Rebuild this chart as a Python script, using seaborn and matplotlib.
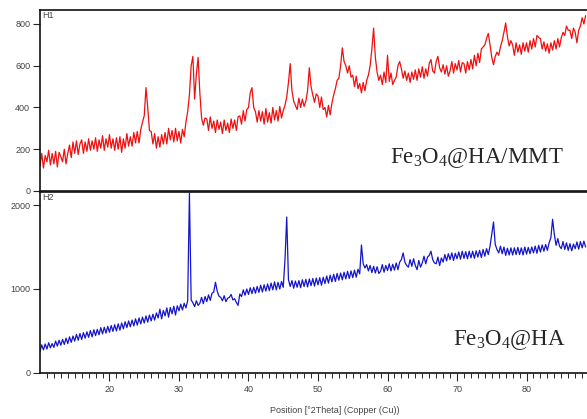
import numpy as np
import pandas as pd
import matplotlib
matplotlib.use("Agg")
import matplotlib.pyplot as plt
import seaborn as sns

# 2theta grid, 0.25 deg steps from 10 to 88.5
two_theta = np.arange(10, 88.51, 0.25)

# H1 : Fe3O4@HA/MMT (one row per degree)
h1_rows = [
    [120, 180, 110, 170], [140, 195, 125, 180], [130, 190, 115, 185], [165, 140, 200, 130],
    [180, 220, 160, 235], [180, 240, 175, 225], [245, 180, 235, 190], [250, 195, 240, 200],
    [255, 190, 245, 205], [265, 195, 250, 210], [270, 205, 250, 195], [255, 200, 260, 185],
    [250, 205, 275, 215], [260, 215, 280, 230], [285, 230, 295, 330], [360, 495, 400, 290],
    [285, 225, 275, 205], [260, 210, 270, 225], [280, 225, 300, 245], [290, 235, 300, 240],
    [285, 230, 295, 260], [330, 380, 460, 600], [645, 440, 560, 640], [470, 350, 315, 350],
    [345, 290, 355, 300], [335, 280, 340, 295], [330, 275, 340, 290], [325, 280, 345, 300],
    [340, 290, 355, 360], [320, 385, 335, 390], [400, 470, 495, 400], [380, 330, 385, 335],
    [380, 320, 395, 330], [375, 325, 400, 340], [385, 335, 405, 350], [385, 410, 450, 520],
    [610, 480, 430, 410], [390, 445, 400, 440], [405, 430, 480, 590], [500, 460, 425, 465],
    [455, 400, 450, 390], [400, 355, 410, 365], [420, 460, 490, 530], [540, 600, 686, 620],
    [600, 565, 600, 545], [555, 500, 550, 490], [515, 470, 520, 480], [530, 555, 600, 680],
    [780, 640, 570, 530], [555, 510, 570, 520], [650, 525, 565, 510], [530, 545, 600, 620],
    [585, 540, 575, 530], [565, 520, 570, 535], [580, 530, 585, 545], [595, 540, 585, 550],
    [610, 630, 575, 565], [620, 645, 590, 570], [605, 560, 600, 550], [575, 620, 565, 610],
    [580, 625, 570, 615], [610, 565, 620, 580], [630, 585, 650, 600], [660, 615, 680, 690],
    [700, 730, 755, 700], [640, 605, 645, 665], [650, 690, 720, 760], [805, 740, 695, 720],
    [700, 650, 710, 665], [700, 655, 710, 670], [710, 665, 720, 680], [730, 690, 745, 735],
    [730, 680, 715, 670], [705, 660, 710, 675], [720, 680, 730, 690], [735, 760, 745, 790],
    [770, 770, 730, 780], [760, 710, 770, 790], [830, 800, 840],
]

# H2 : Fe3O4@HA
h2_rows = [
    [255, 335, 275, 345], [285, 360, 300, 350], [305, 380, 320, 390], [330, 400, 340, 415],
    [350, 430, 365, 440], [380, 460, 390, 470], [400, 480, 415, 490], [425, 505, 430, 515],
    [445, 520, 455, 540], [465, 545, 475, 555], [485, 565, 495, 575], [500, 585, 510, 595],
    [525, 610, 540, 620], [550, 630, 560, 645], [570, 655, 585, 665], [595, 680, 605, 690],
    [620, 700, 630, 715], [655, 760, 645, 745], [680, 775, 665, 780], [705, 795, 690, 800],
    [740, 820, 750, 830], [775, 860, 2140, 870], [835, 790, 860, 805], [830, 900, 825, 910],
    [850, 930, 865, 950], [965, 1080, 975, 915], [900, 860, 920, 850], [890, 900, 935, 870],
    [885, 840, 805, 940], [910, 990, 925, 1000], [935, 1015, 945, 1020], [950, 1030, 960, 1045],
    [965, 1050, 975, 1060], [980, 1070, 990, 1085], [990, 1080, 1000, 1090], [1020, 1350, 1857, 1110],
    [1030, 1100, 1010, 1095], [1020, 1100, 1015, 1110], [1030, 1115, 1025, 1120], [1040, 1125, 1035, 1130],
    [1050, 1135, 1045, 1140], [1065, 1155, 1070, 1165], [1085, 1175, 1090, 1185], [1105, 1190, 1110, 1200],
    [1120, 1210, 1125, 1215], [1135, 1225, 1140, 1235], [1180, 1524, 1300, 1250], [1290, 1215, 1280, 1195],
    [1270, 1190, 1265, 1185], [1210, 1290, 1200, 1280], [1220, 1300, 1215, 1295], [1225, 1310, 1230, 1320],
    [1350, 1430, 1320, 1280], [1260, 1350, 1270, 1360], [1280, 1230, 1340, 1260], [1310, 1390, 1300, 1380],
    [1400, 1450, 1350, 1310], [1300, 1380, 1280, 1370], [1320, 1410, 1335, 1420], [1350, 1430, 1340, 1425],
    [1360, 1440, 1355, 1450], [1365, 1445, 1360, 1450], [1370, 1450, 1365, 1455], [1380, 1460, 1375, 1470],
    [1390, 1480, 1410, 1510], [1650, 1798, 1530, 1470], [1430, 1510, 1420, 1500], [1400, 1485, 1405, 1490],
    [1405, 1490, 1410, 1495], [1410, 1490, 1405, 1500], [1415, 1495, 1420, 1500], [1430, 1510, 1425, 1520],
    [1440, 1525, 1450, 1530], [1460, 1550, 1610, 1830], [1650, 1520, 1600, 1510], [1480, 1565, 1470, 1550],
    [1460, 1540, 1455, 1535], [1480, 1560, 1475, 1565], [1490, 1570, 1500],
]

h1 = [v for r in h1_rows for v in r]
h2 = [v for r in h2_rows for v in r]

df1 = pd.DataFrame({"pos": two_theta, "counts": h1})
df2 = pd.DataFrame({"pos": two_theta, "counts": h2})

sns.set_theme(style="ticks")
plt.rcParams["font.family"] = ["Liberation Sans", "DejaVu Sans"]
plt.rcParams["mathtext.fontset"] = "custom"
plt.rcParams["mathtext.rm"] = "Liberation Serif"
plt.rcParams["mathtext.it"] = "Liberation Serif:italic"

fig = plt.figure(figsize=(5.87, 4.19), dpi=100)
ax1 = fig.add_axes([0.0681, 0.5442, 0.9319, 0.4319])
ax2 = fig.add_axes([0.0681, 0.1098, 0.9319, 0.4320])

sns.lineplot(data=df1, x="pos", y="counts", ax=ax1, color="#ee1010", linewidth=0.9)
sns.lineplot(data=df2, x="pos", y="counts", ax=ax2, color="#1515c8", linewidth=0.9)

tick_col = "#444444"
for ax in (ax1, ax2):
    ax.set_xlim(10, 88.7)
    ax.set_xlabel("")
    ax.set_ylabel("")
    ax.spines["right"].set_visible(False)
    for s in ("left", "top", "bottom"):
        ax.spines[s].set_linewidth(1.2)
        ax.spines[s].set_color("#111111")
    ax.tick_params(axis="y", length=5, width=0.8, pad=2, labelsize=6.5, labelcolor=tick_col)

ax1.set_ylim(0, 867)
ax1.set_yticks([0, 200, 400, 600, 800])
ax1.set_xticks([])
ax1.text(0.004, 0.995, "H1", transform=ax1.transAxes, fontsize=6.5, color=tick_col, va="top")

ax2.set_ylim(0, 2155)
ax2.set_yticks([0, 1000, 2000])
ax2.set_xticks([20, 30, 40, 50, 60, 70, 80])
ax2.set_xticks(np.arange(11, 89, 1), minor=True)
ax2.tick_params(axis="x", which="major", length=6, width=0.8, pad=3, labelsize=6.5, labelcolor=tick_col)
ax2.tick_params(axis="x", which="minor", length=3.5, width=0.7)
ax2.text(0.004, 0.995, "H2", transform=ax2.transAxes, fontsize=6.5, color=tick_col, va="top")

fig.text(335 / 587, 1 - 410 / 419, "Position [°2Theta] (Copper (Cu))", fontsize=6.5,
         color=tick_col, ha="center", va="center")

fig.text(390 / 587, 1 - 163 / 419, r"Fe$_\mathrm{3}$O$_\mathrm{4}$@HA/MMT",
         family="Liberation Serif", fontsize=16.5, va="baseline", ha="left")
fig.text(453 / 587, 1 - 345 / 419, r"Fe$_\mathrm{3}$O$_\mathrm{4}$@HA",
         family="Liberation Serif", fontsize=16.5, va="baseline", ha="left")

fig.savefig("out.png", dpi=100)
